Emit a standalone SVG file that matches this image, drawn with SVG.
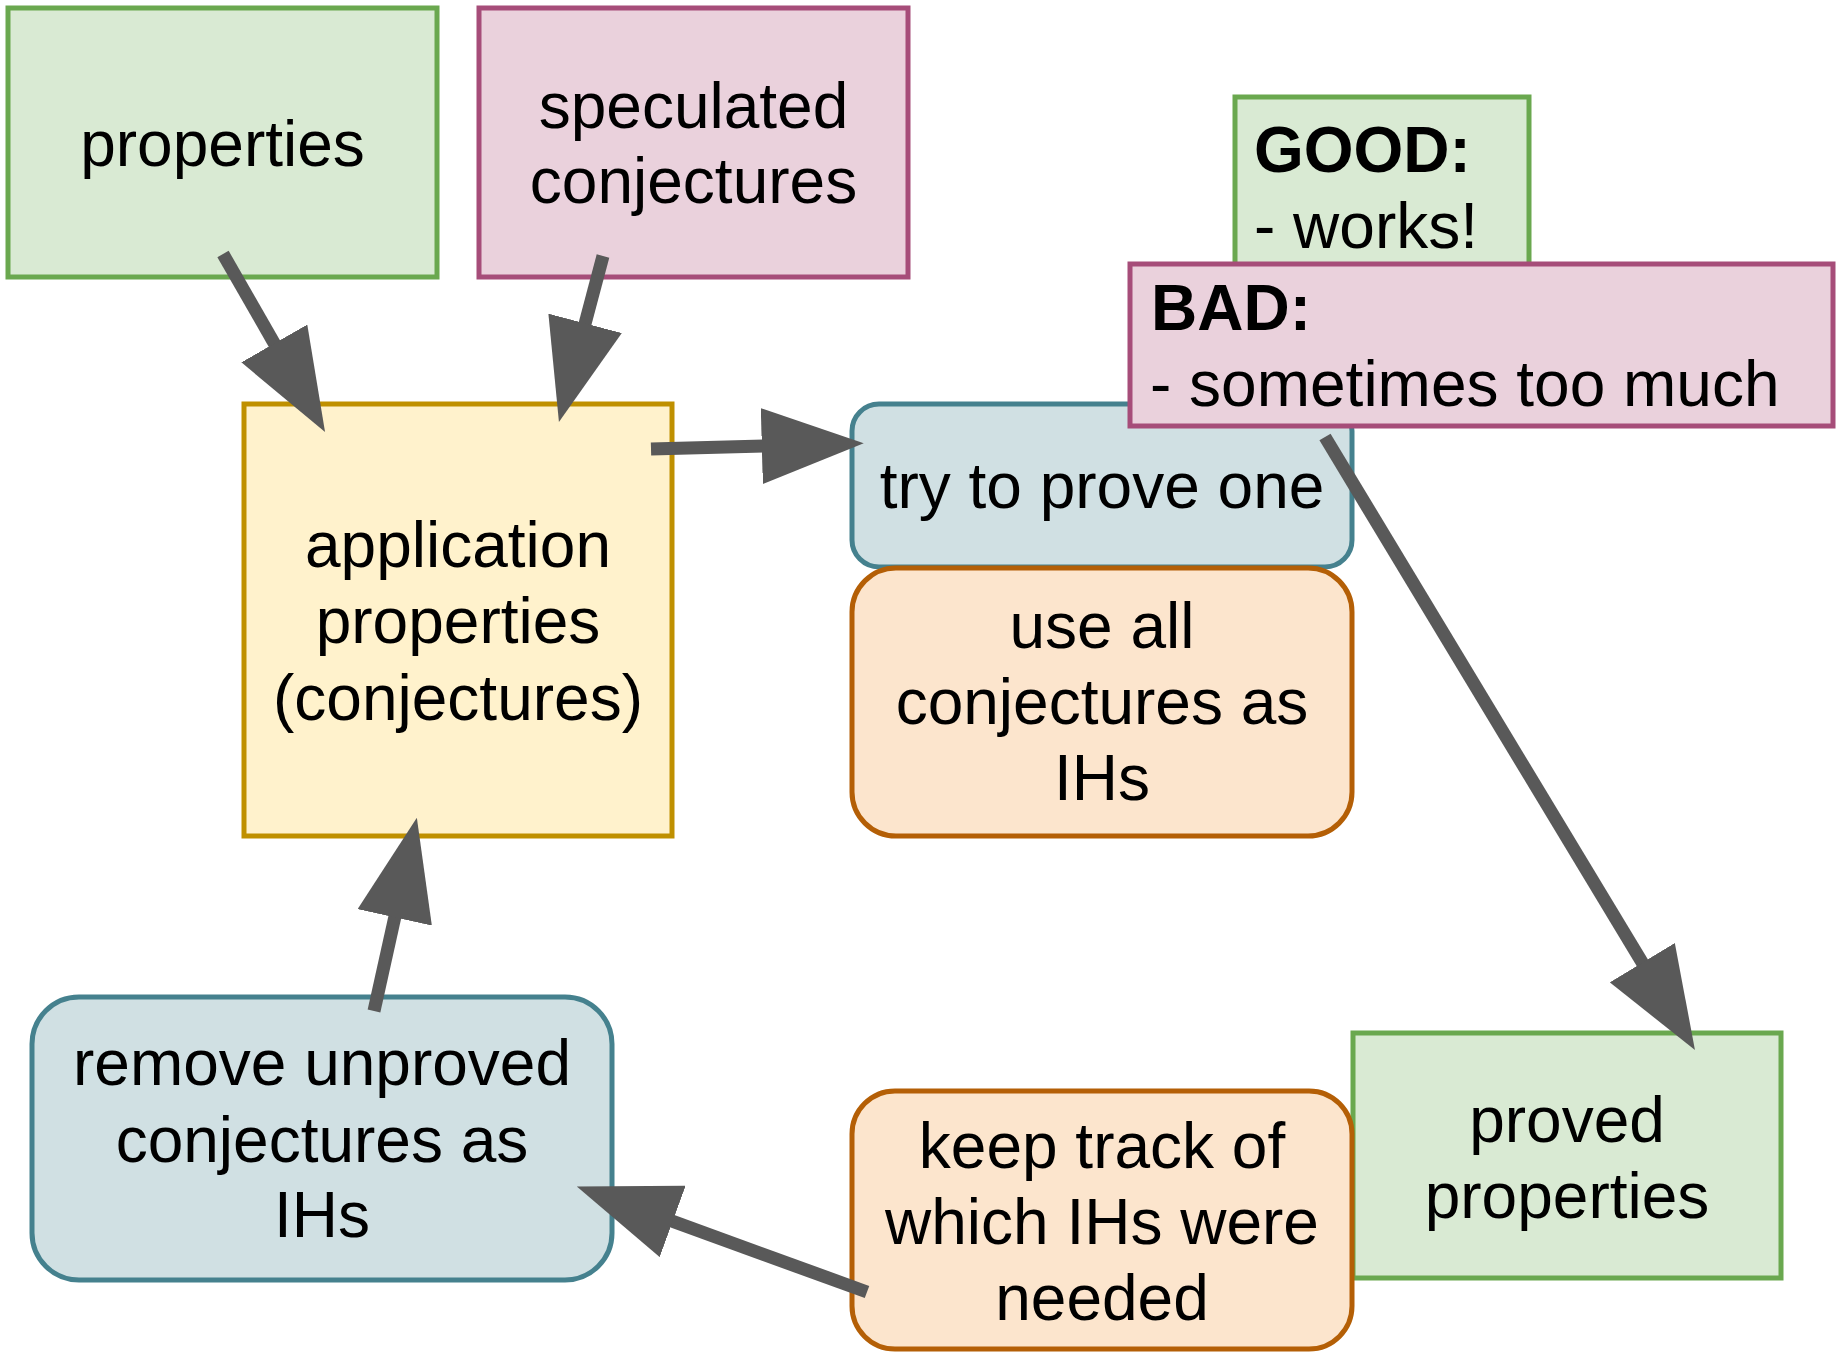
<svg xmlns="http://www.w3.org/2000/svg" width="1841" height="1353" viewBox="0 0 1841 1353">
<style>
text{font-family:"Liberation Sans",Arial,sans-serif;font-size:64px;fill:#000}
.c{text-anchor:middle}
.b{font-weight:bold}
.g{fill:#d9ead3;stroke:#6aa84f;stroke-width:5}
.p{fill:#ead1dc;stroke:#a64d79;stroke-width:5}
.y{fill:#fff2cc;stroke:#bf9000;stroke-width:5}
.t{fill:#d0e0e3;stroke:#45818e;stroke-width:5}
.o{fill:#fce5cd;stroke:#b45f06;stroke-width:5}
.e{stroke:#595959;stroke-width:13;fill:none;marker-end:url(#ah)}
</style>
<defs>
<marker id="ah" markerUnits="userSpaceOnUse" markerWidth="102" markerHeight="76" viewBox="0 0 102 76" refX="2" refY="38" orient="auto">
<path d="M0,0 L102,38 L0,76 Z" fill="#595959"/>
</marker>
</defs>
<rect width="1841" height="1353" fill="#fff"/>
<g id="n-properties">
<rect class="g" x="8" y="8" width="429" height="269"/>
<text class="c" x="222.5" y="166">properties</text>
</g>
<g id="n-speculated">
<rect class="p" x="479" y="8" width="429" height="269"/>
<text class="c" x="693.5" y="128">speculated</text>
<text class="c" x="693.5" y="203">conjectures</text>
</g>
<g id="n-application">
<rect class="y" x="244" y="404" width="428" height="432"/>
<text class="c" x="458" y="567">application</text>
<text class="c" x="458" y="643">properties</text>
<text class="c" x="458" y="720">(conjectures)</text>
</g>
<g id="n-try">
<rect class="t" x="852" y="404" width="500" height="163" rx="27" ry="27"/>
<text class="c" x="1102" y="508">try to prove one</text>
</g>
<g id="n-useall">
<rect class="o" x="852" y="568" width="500" height="268" rx="44" ry="44"/>
<text class="c" x="1102" y="648">use all</text>
<text class="c" x="1102" y="724">conjectures as</text>
<text class="c" x="1102" y="800">IHs</text>
</g>
<g id="n-good">
<rect class="g" x="1235" y="97" width="294" height="220"/>
<text class="b" x="1254" y="172">GOOD:</text>
<text x="1254" y="248">- works!</text>
</g>
<g id="n-bad">
<rect class="p" x="1130" y="264" width="703" height="162"/>
<text class="b" x="1151" y="330">BAD:</text>
<text x="1150" y="406">- sometimes too much</text>
</g>
<g id="n-proved">
<rect class="g" x="1353" y="1033" width="428" height="245"/>
<text class="c" x="1567" y="1142">proved</text>
<text class="c" x="1567" y="1218">properties</text>
</g>
<g id="n-keeptrack">
<rect class="o" x="852" y="1091" width="500" height="258" rx="43" ry="43"/>
<text class="c" x="1102" y="1168">keep track of</text>
<text class="c" x="1102" y="1244">which IHs were</text>
<text class="c" x="1102" y="1320">needed</text>
</g>
<g id="n-remove">
<rect class="t" x="32" y="997" width="580" height="283" rx="47" ry="47"/>
<text class="c" x="322" y="1085">remove unproved</text>
<text class="c" x="322" y="1162">conjectures as</text>
<text class="c" x="322" y="1237">IHs</text>
</g>
<g id="connectors">
<line class="e" x1="223" y1="254" x2="275.3" y2="345.2"/>
<line class="e" x1="603" y1="256" x2="584.6" y2="325.3"/>
<line class="e" x1="651" y1="449" x2="763.8" y2="446"/>
<line class="e" x1="1325" y1="437" x2="1643.3" y2="964.4"/>
<line class="e" x1="867" y1="1292" x2="670.8" y2="1220.7"/>
<line class="e" x1="374" y1="1011" x2="395.2" y2="915.4"/>
</g>
</svg>
